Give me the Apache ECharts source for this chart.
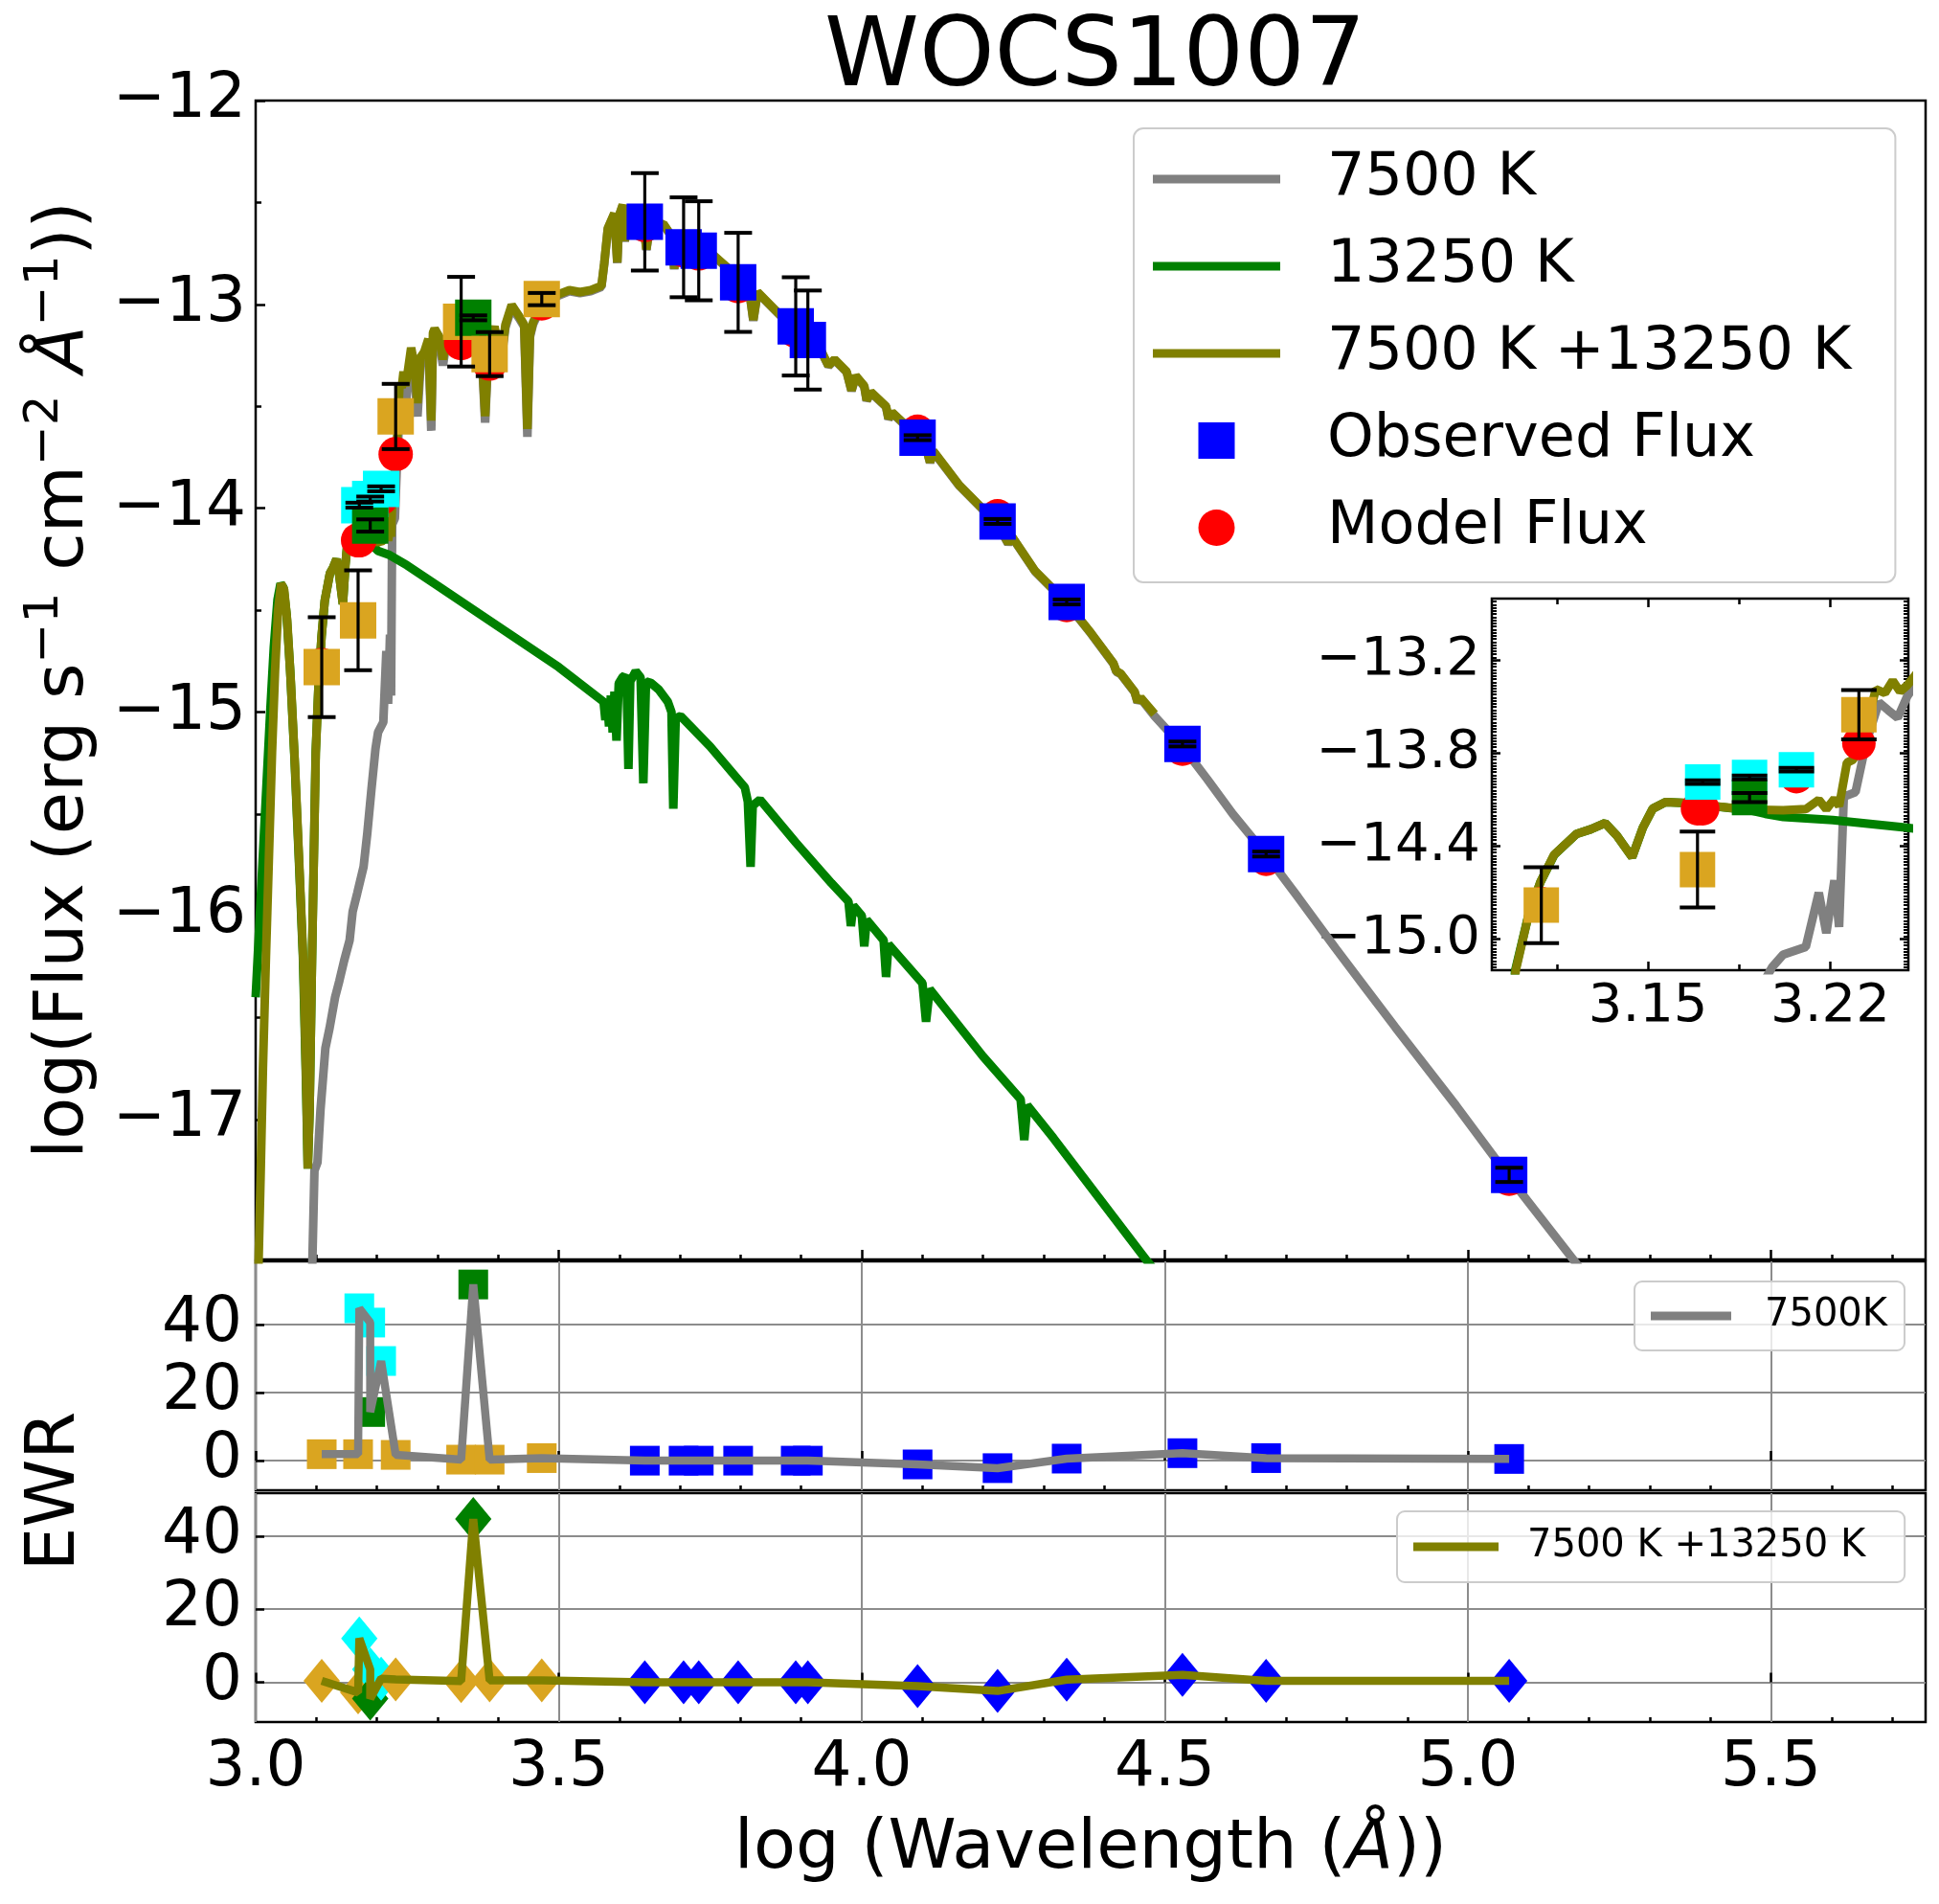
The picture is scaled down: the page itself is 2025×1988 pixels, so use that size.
<!DOCTYPE html>
<html><head><meta charset="utf-8">
<script src="https://cdn.jsdelivr.net/npm/echarts/dist/echarts.min.js"></script>
<style>html,body{margin:0;padding:0;background:#fff}#c{width:2025px;height:1988px}</style>
</head><body><div id="c"></div>
<script>
// ---------------- DATA ----------------
// photometric points (log wavelength in Angstrom)
const logWave = [3.109, 3.169, 3.171, 3.189, 3.189, 3.207, 3.231, 3.339, 3.359, 3.386, 3.472,
  3.642, 3.706, 3.731, 3.796, 3.891, 3.911, 4.092, 4.224, 4.338, 4.529, 4.667, 5.068];
const obsSet = ['A','A','B','B','C','B','A','A','C','A','A',
  'D','D','D','D','D','D','D','D','D','D','D','D'];
const obsFlux = [-14.78, -14.55, -13.985, -13.955, -14.085, -13.905, -13.55, -13.085, -13.066, -13.244, -12.974,
  -12.595, -12.72, -12.737, -12.892, -13.108, -13.175, -13.654, -14.065, -14.46, -15.157, -15.697, -17.271];
const obsErr = [0.245, 0.245, 0.012, 0.012, 0.03, 0.012, 0.16, 0.22, 0.012, 0.108, 0.03,
  0.239, 0.245, 0.243, 0.243, 0.241, 0.243, 0.012, 0.012, 0.012, 0.012, 0.012, 0.035];
const modelFlux = [-14.77, -14.157, -14.157, -14.09, -14.09, -13.95, -13.735, -13.19, -13.10, -13.29, -12.995,
  -12.61, -12.735, -12.75, -12.91, -13.13, -13.17, -13.625, -14.04, -14.475, -15.18, -15.72, -17.29];
const ewr7500 = [1.9, 1.9, 44.8, 40.6, 14.3, 29.3, 1.7, 0.3, 51.8, 0.3, 0.75,
  0, 0, 0, 0, 0, 0, -1.1, -2.2, 0.6, 2.2, 0.75, 0.5];
const ewrSum = [0.4, -2.8, 12.0, 3.5, -4.5, 1.0, 0.8, 0.3, 44.7, 0.5, 0.5,
  0, 0, 0, 0, 0, 0, -1.05, -2.4, 0.7, 2.0, 0.4, 0.4];

// model spectra [log wavelength, log flux]
const spec7500 = [[3.092,-17.90],[3.097,-17.25],[3.102,-17.21],[3.107,-16.95],[3.115,-16.65],[3.122,-16.55],[3.131,-16.40],[3.138,-16.32],[3.146,-16.22],[3.155,-16.12],[3.160,-15.98],[3.1675,-15.89],[3.178,-15.76],[3.184,-15.60],[3.191,-15.38],[3.1977,-15.18],[3.2019,-15.10],[3.2106,-15.05],[3.2156,-14.70],[3.2185,-14.96],[3.2216,-14.62],[3.2234,-14.92],[3.2252,-14.08],[3.2297,-14.05],[3.2338,-13.73],[3.2387,-13.47],[3.2422,-13.52],[3.2459,-13.57],[3.2496,-13.43],
[3.2565,-13.26],[3.262,-13.35],[3.267,-13.55],[3.272,-13.30],[3.278,-13.27],[3.285,-13.20],[3.2897,-13.62],[3.2925,-13.17],[3.2953,-13.15],[3.303,-13.19],[3.309,-13.30],[3.314,-13.20],[3.320,-13.22],[3.334,-13.20],[3.345,-13.14],[3.355,-13.12],[3.365,-13.16],[3.372,-13.19],[3.3786,-13.58],[3.384,-13.22],[3.394,-13.125],[3.4047,-13.29],[3.412,-13.115],[3.4224,-13.015],[3.435,-13.07],[3.443,-13.11],[3.4483,-13.65],[3.4525,-13.16],[3.4577,-13.097],[3.470,-13.02],[3.4823,-12.98],[3.500,-12.957],[3.5175,-12.936],[3.535,-12.945],[3.5528,-12.935],[3.5705,-12.914],[3.575,-12.805],[3.581,-12.63],[3.5917,-12.556],[3.5966,-12.797],[3.600,-12.563],[3.6057,-12.514],[3.609,-12.692],[3.614,-12.543],[3.6234,-12.566],[3.635,-12.613],[3.640,-12.603],[3.6446,-12.733],[3.650,-12.623],[3.6727,-12.608],[3.687,-12.671],[3.6905,-12.828],[3.695,-12.673],[3.729,-12.692],[3.7645,-12.786],[3.790,-12.853],[3.8138,-12.922],[3.821,-13.08],[3.828,-12.943],[3.835,-12.964],[3.877,-13.09],[3.910,-13.163],[3.934,-13.237],[3.945,-13.303],[3.955,-13.273],[3.975,-13.333],[3.983,-13.425],[3.990,-13.353],[4.004,-13.403],[4.008,-13.473],[4.015,-13.433],[4.040,-13.503],[4.044,-13.563],[4.050,-13.533],[4.068,-13.583],[4.089,-13.635],[4.105,-13.693],[4.1126,-13.777],[4.118,-13.723],[4.161,-13.891],[4.224,-14.08],[4.2415,-14.175],[4.248,-14.143],[4.286,-14.311],[4.3385,-14.468],[4.378,-14.615],[4.415,-14.763],[4.420,-14.803],[4.427,-14.814],[4.450,-14.903],[4.455,-14.953],[4.460,-14.933],[4.483,-15.02],[4.529,-15.17],[4.570,-15.33],[4.612,-15.50],[4.667,-15.70],[4.720,-15.91],[4.781,-16.157],[4.830,-16.35],[4.880,-16.546],[4.980,-16.93],[5.0686,-17.285],[5.176,-17.695],[5.210,-17.83]];

const spec13250 = [[3.000,-16.40],[3.006,-16.05],[3.012,-15.70],[3.018,-15.35],[3.024,-15.00],[3.030,-14.68],[3.036,-14.45],[3.041,-14.37],[3.046,-14.39],[3.051,-14.52],[3.057,-14.80],[3.064,-15.22],[3.071,-15.70],[3.078,-16.20],[3.083,-16.80],[3.086,-17.24],[3.089,-16.95],[3.093,-16.20],[3.099,-15.20],[3.104,-14.85],[3.1087,-14.63],[3.114,-14.455],[3.1225,-14.32],[3.128,-14.29],[3.1335,-14.25],[3.138,-14.33],[3.1439,-14.47],[3.148,-14.28],[3.1518,-14.157],[3.1567,-14.115],[3.165,-14.12],[3.1726,-14.136],[3.1885,-14.165],[3.195,-14.19],[3.202,-14.21],[3.221,-14.23],[3.2496,-14.28],[3.30,-14.38],[3.40,-14.58],[3.50,-14.78],[3.574,-14.95],[3.577,-15.04],[3.580,-14.95],[3.583,-15.07],[3.586,-14.92],[3.589,-15.10],[3.592,-14.90],[3.5953,-15.14],[3.599,-14.86],[3.605,-14.83],[3.609,-14.82],[3.612,-14.86],[3.615,-15.28],[3.618,-14.85],[3.627,-14.80],[3.635,-14.83],[3.6396,-15.35],[3.644,-14.85],[3.652,-14.857],[3.665,-14.89],[3.680,-14.95],[3.686,-15.00],[3.689,-15.475],[3.693,-15.03],[3.701,-15.02],[3.75,-15.17],[3.807,-15.37],[3.812,-15.44],[3.8165,-15.76],[3.820,-15.46],[3.832,-15.43],[3.891,-15.64],[3.950,-15.84],[3.978,-15.93],[3.982,-16.05],[3.986,-15.95],[4.000,-16.00],[4.004,-16.15],[4.008,-16.02],[4.036,-16.12],[4.040,-16.30],[4.044,-16.14],[4.100,-16.33],[4.106,-16.52],[4.112,-16.36],[4.200,-16.69],[4.262,-16.90],[4.268,-17.10],[4.273,-16.93],[4.316,-17.09],[4.471,-17.695],[4.50,-17.80]];

const specSum = [[3.004,-17.80],[3.008,-17.30],[3.012,-16.75],[3.017,-16.20],[3.022,-15.70],[3.027,-15.20],[3.032,-14.80],[3.037,-14.50],[3.042,-14.37],[3.047,-14.40],[3.052,-14.55],[3.058,-14.85],[3.065,-15.27],[3.072,-15.75],[3.079,-16.25],[3.084,-16.90],[3.086,-17.24],[3.089,-16.95],[3.093,-16.20],[3.0992,-15.20],[3.104,-14.85],[3.1087,-14.63],[3.1139,-14.455],[3.1225,-14.32],[3.128,-14.29],[3.1335,-14.25],[3.138,-14.33],[3.1439,-14.47],[3.148,-14.28],[3.1518,-14.157],[3.1567,-14.115],[3.165,-14.12],[3.1726,-14.136],[3.1885,-14.163],[3.2019,-14.167],[3.2106,-14.16],[3.2156,-14.10],[3.2185,-14.16],[3.2216,-14.093],[3.2234,-14.14],[3.2264,-13.86],[3.2288,-13.84],[3.2326,-13.71],[3.2375,-13.385],[3.241,-13.41],[3.244,-13.33],[3.2468,-13.40],[3.2496,-13.36],[3.2565,-13.213],[3.262,-13.30],[3.267,-13.485],[3.272,-13.26],[3.278,-13.234],[3.285,-13.17],[3.2897,-13.57],[3.2925,-13.14],[3.2953,-13.12],[3.303,-13.16],[3.309,-13.27],[3.314,-13.17],[3.320,-13.19],[3.334,-13.18],[3.345,-13.12],[3.355,-13.10],[3.365,-13.14],[3.372,-13.17],[3.3786,-13.548],[3.384,-13.20],[3.394,-13.108],[3.4047,-13.275],[3.412,-13.10],[3.4224,-13.003],[3.435,-13.06],[3.443,-13.10],[3.4483,-13.611],[3.4525,-13.15],[3.4577,-13.087],[3.470,-13.01],[3.4823,-12.972],[3.500,-12.95],[3.5175,-12.930],[3.535,-12.94],[3.5528,-12.93],[3.5705,-12.909],[3.575,-12.80],[3.581,-12.626],[3.5917,-12.553],[3.5966,-12.794],[3.600,-12.56],[3.6057,-12.511],[3.609,-12.689],[3.614,-12.54],[3.6234,-12.563],[3.635,-12.61],[3.640,-12.60],[3.6446,-12.73],[3.650,-12.62],[3.6727,-12.605],[3.687,-12.668],[3.6905,-12.825],[3.695,-12.67],[3.729,-12.689],[3.7645,-12.783],[3.790,-12.85],[3.8138,-12.919],[3.821,-13.076],[3.828,-12.94],[3.835,-12.961],[3.877,-13.087],[3.910,-13.16],[3.934,-13.234],[3.945,-13.30],[3.955,-13.27],[3.975,-13.33],[3.983,-13.422],[3.990,-13.35],[4.004,-13.40],[4.008,-13.47],[4.015,-13.43],[4.040,-13.50],[4.044,-13.56],[4.050,-13.53],[4.068,-13.58],[4.089,-13.632],[4.105,-13.69],[4.1126,-13.774],[4.118,-13.72],[4.161,-13.888],[4.224,-14.077],[4.2415,-14.172],[4.248,-14.14],[4.286,-14.308],[4.3385,-14.465],[4.378,-14.612],[4.415,-14.76],[4.420,-14.80],[4.427,-14.811],[4.450,-14.90],[4.455,-14.95],[4.460,-14.93],[4.483,-15.01]];

// tick values
const xMajorTicks = [3.0, 3.5, 4.0, 4.5, 5.0, 5.5];
const xMinorTicks = [3.1,3.2,3.3,3.4,3.6,3.7,3.8,3.9,4.1,4.2,4.3,4.4,4.6,4.7,4.8,4.9,5.1,5.2,5.3,5.4,5.6,5.7];
const yMajorTicks = [-17, -16, -15, -14, -13, -12];
const yMinorTicks = [-17.5, -16.5, -15.5, -14.5, -13.5, -12.5];
const ewrTicks = [0, 20, 40];
const insetXMajor = [3.15, 3.22];
const insetXMinor = [3.115, 3.185];
const insetYMajor = [-15.0, -14.4, -13.8, -13.2];

// ---------------- STYLE / LAYOUT ----------------
const FONT = 'DejaVu Sans';
const GRAY = '#808080', GREEN = '#008000', OLIVE = '#808000', BLUE = '#0000ff', RED = '#ff0000';
const SET_COLOR = {A:'#daa520', B:'#00ffff', C:'#008000', D:'#0000ff'};
const MINUS = '\u2212';
const neg = s => s.replace('-', MINUS);

const chart = echarts.init(document.getElementById('c'), null, {width:2025, height:1988, renderer:'canvas'});

const obsData = logWave.map((w,i)=>({value:[w, obsFlux[i]], itemStyle:{color:SET_COLOR[obsSet[i]]}}));
const modelData = logWave.map((w,i)=>[w, modelFlux[i]]);
const errData = logWave.map((w,i)=>[w, obsFlux[i]-obsErr[i], obsFlux[i]+obsErr[i]]);
const ewr1Pts = logWave.map((w,i)=>({value:[w, ewr7500[i]], itemStyle:{color:SET_COLOR[obsSet[i]]}}));
const ewr2Pts = logWave.map((w,i)=>({value:[w, ewrSum[i]], itemStyle:{color:SET_COLOR[obsSet[i]]}}));
const ewr1Line = logWave.map((w,i)=>[w, ewr7500[i]]);
const ewr2Line = logWave.map((w,i)=>[w, ewrSum[i]]);

function errRenderer(cap){
  return function(params, api){
    const x = api.value(0), lo = api.value(1), hi = api.value(2);
    const a = api.coord([x, lo]), b = api.coord([x, hi]);
    const h = cap/2;
    return {type:'group', children:[
      {type:'line', shape:{x1:a[0],y1:a[1],x2:b[0],y2:b[1]}, style:{stroke:'#000', lineWidth:3.2}},
      {type:'line', shape:{x1:a[0]-h,y1:a[1],x2:a[0]+h,y2:a[1]}, style:{stroke:'#000', lineWidth:4}},
      {type:'line', shape:{x1:b[0]-h,y1:b[1],x2:b[0]+h,y2:b[1]}, style:{stroke:'#000', lineWidth:4}}
    ]};
  };
}

function specLine(name, data, color, xi, yi, z){
  return {type:'line', name, data, xAxisIndex:xi, yAxisIndex:yi, symbol:'none', showSymbol:false,
    clip:true, z, silent:true, lineStyle:{color, width:9}, itemStyle:{color}};
}

const tickStyle = {color:'#000', width:2.5};
function xAx(grid, min, max, ticks, len, extra){
  return Object.assign({type:'value', gridIndex:grid, min, max, position:'bottom',
    axisLine:{show:false}, axisLabel:{show:false}, splitLine:{show:false},
    axisTick:{show:true, inside:true, length:len, customValues:ticks, lineStyle:tickStyle}}, extra||{});
}
function yAx(grid, min, max, ticks, len, extra){
  return Object.assign({type:'value', gridIndex:grid, min, max, position:'left',
    axisLine:{show:false}, axisLabel:{show:false}, splitLine:{show:false},
    axisTick:{show:true, inside:true, length:len, customValues:ticks, lineStyle:tickStyle}}, extra||{});
}

const X_MIN = 3.0, X_MAX = 5.755;
const gridLine = {show:true, lineStyle:{color:'#8c8c8c', width:2}};
const nameRich = {
  a:{fontFamily:FONT, fontSize:72, lineHeight:90, color:'#000'},
  i:{fontFamily:FONT, fontSize:72, lineHeight:90, fontStyle:'italic', color:'#000'},
  s:{fontFamily:FONT, fontSize:50, lineHeight:50, verticalAlign:'top', color:'#000'}
};
const tickLabel = {show:true, fontFamily:FONT, fontSize:66, color:'#000'};

const BAR_MAIN = 'path://M0,0L0,0M177,38L177,38M0,14.5L133,14.5L133,23.5L0,23.5Z';
const SQ_MAIN = 'path://M0,0L0,0M177,38L177,38M47.5,0L85.5,0L85.5,38L47.5,38Z';
const CIRC_MAIN = 'path://M0,0L0,0M177,38L177,38M47.5,19A19,19,0,1,0,85.5,19A19,19,0,1,0,47.5,19Z';
const BAR_R1 = 'path://M0,0L0,0M114,40L114,40M0,15.5L84,15.5L84,24.5L0,24.5Z';
const BAR_R2 = 'path://M0,0L0,0M114,40L114,40M0,15.5L89,15.5L89,24.5L0,24.5Z';

const option = {
  backgroundColor:'#fff',
  animation:false,
  textStyle:{fontFamily:FONT},
  title:{text:'WOCS1007', left:856, top:8, textStyle:{fontFamily:FONT, fontSize:100, fontWeight:'normal', color:'#000'}},
  grid:[
    {left:267, top:105, width:1744, height:1210, show:true, borderColor:'#000', borderWidth:2.5, backgroundColor:'transparent'},
    {left:267, top:1317, width:1744, height:239, show:true, borderColor:'#000', borderWidth:2.5, backgroundColor:'transparent'},
    {left:267, top:1559, width:1744, height:239, show:true, borderColor:'#000', borderWidth:2.5, backgroundColor:'transparent'},
    {left:1558, top:625, width:435, height:388, show:true, borderColor:'#000', borderWidth:2.5, backgroundColor:'#fff'}
  ],
  xAxis:[
    xAx(0, X_MIN, X_MAX, xMajorTicks, 10),
    xAx(0, X_MIN, X_MAX, xMinorTicks, 5),
    xAx(1, X_MIN, X_MAX, xMajorTicks, 10, {splitLine:gridLine}),
    xAx(1, X_MIN, X_MAX, xMinorTicks, 5),
    xAx(2, X_MIN, X_MAX, xMajorTicks, 10, {splitLine:gridLine,
      axisLabel:Object.assign({}, tickLabel, {margin:16, customValues:xMajorTicks, formatter:v=>v.toFixed(1)}),
      name:'{a|log (Wavelength (}{i|Å}{a|))}', nameLocation:'middle', nameGap:88, nameTextStyle:{rich:nameRich}}),
    xAx(2, X_MIN, X_MAX, xMinorTicks, 5),
    xAx(3, 3.09, 3.25, insetXMajor, 9, {axisLabel:{show:true, fontFamily:FONT, fontSize:56, color:'#000', margin:10,
      customValues:insetXMajor, formatter:v=>v.toFixed(2)}}),
    xAx(3, 3.09, 3.25, insetXMinor, 6),
    xAx(3, 3.09, 3.25, insetXMajor, 9, {position:'top'}),
    xAx(3, 3.09, 3.25, insetXMinor, 6, {position:'top'})
  ],
  yAxis:[
    yAx(0, -17.686, -12, yMajorTicks, 10, {
      axisLabel:Object.assign({}, tickLabel, {margin:10, customValues:yMajorTicks, formatter:v=>neg(v.toFixed(0))}),
      name:'{a|log(Flux (erg s}{s|'+MINUS+'1}{a| cm}{s|'+MINUS+'2}{a| }{i|Å}{s|'+MINUS+'1}{a|))}',
      nameLocation:'middle', nameRotate:90, nameGap:155, nameTextStyle:{rich:nameRich}}),
    yAx(0, -17.686, -12, yMinorTicks, 6),
    yAx(1, -8.7, 58.6, ewrTicks, 9, {splitLine:gridLine,
      axisLabel:Object.assign({}, tickLabel, {margin:14, customValues:ewrTicks, formatter:v=>String(v)})}),
    yAx(2, -10.9, 51.8, ewrTicks, 9, {splitLine:gridLine,
      axisLabel:Object.assign({}, tickLabel, {margin:14, customValues:ewrTicks, formatter:v=>String(v)})}),
    yAx(3, -15.2, -12.8, insetYMajor, 9, {axisLabel:{show:true, fontFamily:FONT, fontSize:56, color:'#000', margin:12,
      customValues:insetYMajor, formatter:v=>neg(v.toFixed(1))}}),
    {type:'value', gridIndex:3, min:-15.2, max:-12.8, interval:0.02, position:'left', axisLine:{show:false},
      axisLabel:{show:false}, splitLine:{show:false}, axisTick:{show:true, inside:true, length:5, lineStyle:{color:'#000', width:2}}},
    yAx(3, -15.2, -12.8, insetYMajor, 9, {position:'right'}),
    {type:'value', gridIndex:3, min:-15.2, max:-12.8, interval:0.02, position:'right', axisLine:{show:false},
      axisLabel:{show:false}, splitLine:{show:false}, axisTick:{show:true, inside:true, length:5, lineStyle:{color:'#000', width:2}}}
  ],
  legend:[
    {orient:'vertical', left:1184, top:134, padding:[22,46,26,20], itemGap:29, itemWidth:177, itemHeight:38,
      backgroundColor:'rgba(255,255,255,0.8)', borderColor:'#cccccc', borderWidth:2, borderRadius:10,
      selectedMode:false, itemStyle:{borderWidth:0},
      textStyle:{fontFamily:FONT, fontSize:62, lineHeight:62, color:'#000'},
      data:[
        {name:'7500 K', icon:BAR_MAIN, itemStyle:{color:GRAY}},
        {name:'13250 K', icon:BAR_MAIN, itemStyle:{color:GREEN}},
        {name:'7500 K +13250 K', icon:BAR_MAIN, itemStyle:{color:OLIVE}},
        {name:'Observed Flux', icon:SQ_MAIN, itemStyle:{color:BLUE}},
        {name:'Model Flux', icon:CIRC_MAIN, itemStyle:{color:RED}}
      ]},
    {orient:'vertical', left:1707, top:1338, padding:[16,18,16,17], itemWidth:114, itemHeight:40,
      backgroundColor:'rgba(255,255,255,0.8)', borderColor:'#cccccc', borderWidth:2, borderRadius:8,
      selectedMode:false, itemStyle:{borderWidth:0},
      textStyle:{fontFamily:FONT, fontSize:40, lineHeight:40, color:'#000'},
      data:[{name:'7500K', icon:BAR_R1, itemStyle:{color:GRAY}}]},
    {orient:'vertical', left:1459, top:1578, padding:[17,41,17,17], itemWidth:114, itemHeight:40,
      backgroundColor:'rgba(255,255,255,0.8)', borderColor:'#cccccc', borderWidth:2, borderRadius:8,
      selectedMode:false, itemStyle:{borderWidth:0},
      textStyle:{fontFamily:FONT, fontSize:40, lineHeight:40, color:'#000'},
      data:[{name:'7500 K +13250 K', icon:BAR_R2, itemStyle:{color:OLIVE}}]}
  ],
  graphic:[
    {type:'text', x:58, y:1557, rotation:Math.PI/2,
      style:{text:'EWR', x:0, y:0, align:'center', verticalAlign:'middle', fontFamily:FONT, fontSize:72, fill:'#000'}}
  ],
  series:[
    // main panel
    specLine('7500 K', spec7500, GRAY, 0, 0, 2),
    specLine('13250 K', spec13250, GREEN, 0, 0, 2),
    specLine('7500 K +13250 K', specSum, OLIVE, 0, 0, 2),
    {type:'scatter', name:'Model Flux', data:modelData, xAxisIndex:0, yAxisIndex:0, symbol:'circle', symbolSize:36,
      itemStyle:{color:RED, opacity:1}, z:3, silent:true},
    {type:'scatter', name:'Observed Flux', data:obsData, xAxisIndex:0, yAxisIndex:0, symbol:'rect', symbolSize:38,
      itemStyle:{color:BLUE, opacity:1}, z:4, silent:true},
    {type:'custom', name:'errors', data:errData, xAxisIndex:0, yAxisIndex:0, renderItem:errRenderer(29),
      encode:{x:0, y:[1,2]}, z:5, silent:true},
    // inset
    specLine('7500 K', spec7500, GRAY, 6, 4, 6),
    specLine('13250 K', spec13250, GREEN, 6, 4, 6),
    specLine('7500 K +13250 K', specSum, OLIVE, 6, 4, 6),
    {type:'scatter', name:'Model Flux', data:modelData, xAxisIndex:6, yAxisIndex:4, symbol:'circle', symbolSize:35,
      itemStyle:{color:RED, opacity:1}, z:7, clip:true, silent:true},
    {type:'scatter', name:'Observed Flux', data:obsData, xAxisIndex:6, yAxisIndex:4, symbol:'rect', symbolSize:37,
      itemStyle:{color:BLUE, opacity:1}, z:8, clip:true, silent:true},
    {type:'custom', name:'errors inset', data:errData, xAxisIndex:6, yAxisIndex:4, renderItem:errRenderer(37),
      encode:{x:0, y:[1,2]}, z:9, clip:true, silent:true},
    // residual 1
    {type:'scatter', name:'EWR 7500K', data:ewr1Pts, xAxisIndex:2, yAxisIndex:2, symbol:'rect', symbolSize:31,
      itemStyle:{opacity:1}, z:3, silent:true},
    {type:'line', name:'7500K', data:ewr1Line, xAxisIndex:2, yAxisIndex:2, symbol:'none', showSymbol:false,
      lineStyle:{color:GRAY, width:8.5}, itemStyle:{color:GRAY}, z:4, silent:true},
    // residual 2
    {type:'scatter', name:'EWR sum', data:ewr2Pts, xAxisIndex:4, yAxisIndex:3, symbol:'diamond', symbolSize:[38,46],
      itemStyle:{opacity:1}, z:3, silent:true},
    {type:'line', name:'7500 K +13250 K', data:ewr2Line, xAxisIndex:4, yAxisIndex:3, symbol:'none', showSymbol:false,
      lineStyle:{color:OLIVE, width:8.5}, itemStyle:{color:OLIVE}, z:4, silent:true}
  ]
};
chart.setOption(option);
</script></body></html>
